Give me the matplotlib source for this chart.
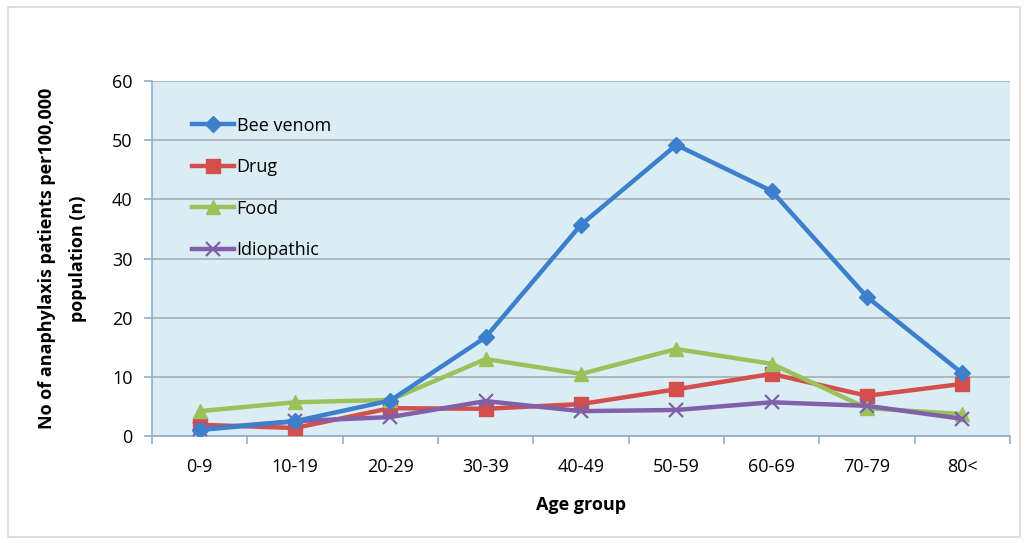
import matplotlib
matplotlib.use("Agg")
import matplotlib.pyplot as plt
from matplotlib.patches import Rectangle
import numpy as np

categories = ["0-9", "10-19", "20-29", "30-39", "40-49", "50-59", "60-69", "70-79", "80<"]
bee_venom = [1.0, 2.5, 6.0, 16.7, 35.7, 49.2, 41.4, 23.5, 10.6]
drug = [1.9, 1.35, 4.7, 4.6, 5.4, 7.9, 10.5, 6.8, 8.8]
food = [4.2, 5.7, 6.1, 13.0, 10.5, 14.7, 12.2, 4.7, 3.7]
idiopathic = [1.2, 2.5, 3.2, 5.9, 4.2, 4.4, 5.7, 5.1, 2.9]

plt.rcParams['font.family'] = ['Open Sans', 'DejaVu Sans']

fig = plt.figure(figsize=(10.27, 5.43), dpi=100)
fig.patches.append(Rectangle((8/1027, 6/543), 1012/1027, 530/543, transform=fig.transFigure,
                             fill=False, edgecolor='#e2d6d0', lw=1.2))
ax = fig.add_axes([152/1027, 1 - 436/543, 858/1027, 355/543])
ax.set_facecolor('#dbedf4')

x = np.arange(len(categories))
ax.plot(x, bee_venom, color='#3c7fcc', lw=3.2, marker='D', ms=8, label='Bee venom', zorder=5)
ax.plot(x, drug, color='#d24f4b', lw=3.2, marker='s', ms=9.5, label='Drug', zorder=3)
ax.plot(x, food, color='#9bc15a', lw=3.2, marker='^', ms=10.5, label='Food', zorder=4)
ax.plot(x, idiopathic, color='#8060a8', lw=3.2, marker='x', ms=10.5, mew=1.6, label='Idiopathic', zorder=4)

ax.set_xlim(-0.5, len(categories) - 0.5)
ax.set_ylim(0, 60)
ax.set_yticks(range(0, 61, 10))
ax.set_xticks(x)
ax.set_xticklabels(categories, fontsize=13)
ax.tick_params(axis='x', which='major', length=0, pad=16)
ax.set_xticks(np.arange(-0.5, len(categories)), minor=True)
ax.tick_params(axis='x', which='minor', length=6, color='#8fb0c8', width=1.2)
ax.tick_params(axis='y', length=6, color='#8fb0c8', width=1.2, labelsize=13, pad=8)
ax.grid(axis='y', color='#a2a9ad', lw=1.1)
ax.set_axisbelow(True)
for s in ['top', 'right']:
    ax.spines[s].set_visible(False)
ax.spines['left'].set_color('#8fb0c8')
ax.spines['bottom'].set_color('#8fb0c8')
ax.spines['left'].set_linewidth(1.2)
ax.spines['bottom'].set_linewidth(1.2)

ax.set_xlabel('Age group', fontsize=13, fontweight='bold', labelpad=14)
ax.set_ylabel('No of anaphylaxis patients per100,000\npopulation (n)', fontsize=13,
              fontweight='bold', labelpad=18, linespacing=1.9)

ax.legend(loc='upper left', bbox_to_anchor=(0.028, 0.945), frameon=False, fontsize=13,
          labelspacing=1.3, handlelength=2.3, handletextpad=0.15)

fig.savefig('out.png', dpi=100)
